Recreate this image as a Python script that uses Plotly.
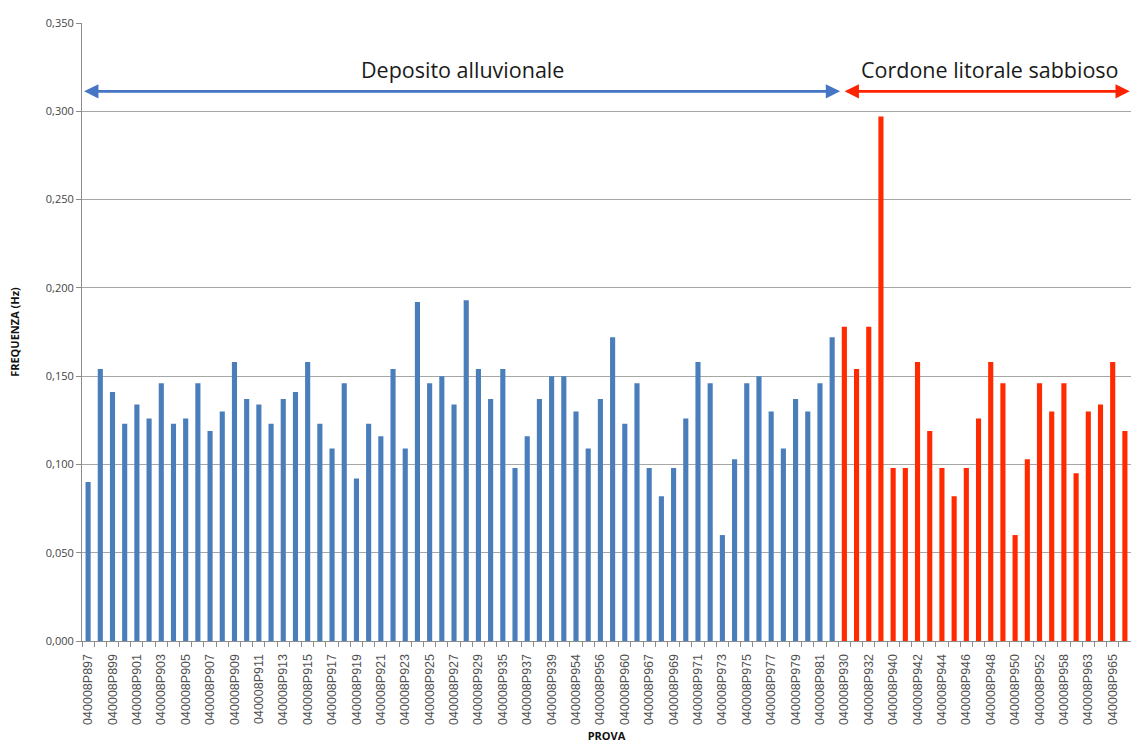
import plotly.graph_objects as go

# Frequency (Hz) per survey, alluvial deposit group
alluvionale = [
    0.090, 0.154, 0.141, 0.123, 0.134, 0.126, 0.146, 0.123, 0.126, 0.146,
    0.119, 0.130, 0.158, 0.137, 0.134, 0.123, 0.137, 0.141, 0.158, 0.123,
    0.109, 0.146, 0.092, 0.123, 0.116, 0.154, 0.109, 0.192, 0.146, 0.150,
    0.134, 0.193, 0.154, 0.137, 0.154, 0.098, 0.116, 0.137, 0.150, 0.150,
    0.130, 0.109, 0.137, 0.172, 0.123, 0.146, 0.098, 0.082, 0.098, 0.126,
    0.158, 0.146, 0.060, 0.103, 0.146, 0.150, 0.130, 0.109, 0.137, 0.130,
    0.146, 0.172,
]

# Frequency (Hz) per survey, sandy coastal ridge group
litorale = [
    0.178, 0.154, 0.178, 0.297, 0.098, 0.098, 0.158, 0.119, 0.098, 0.082,
    0.098, 0.126, 0.158, 0.146, 0.060, 0.103, 0.146, 0.130, 0.146, 0.095,
    0.130, 0.134, 0.158, 0.119,
]

# Labels printed under every other bar
tick_labels = [
    "040008P897", "040008P899", "040008P901", "040008P903", "040008P905",
    "040008P907", "040008P909", "040008P911", "040008P913", "040008P915",
    "040008P917", "040008P919", "040008P921", "040008P923", "040008P925",
    "040008P927", "040008P929", "040008P935", "040008P937", "040008P939",
    "040008P954", "040008P956", "040008P960", "040008P967", "040008P969",
    "040008P971", "040008P973", "040008P975", "040008P977", "040008P979",
    "040008P981", "040008P930", "040008P932", "040008P940", "040008P942",
    "040008P944", "040008P946", "040008P948", "040008P950", "040008P952",
    "040008P958", "040008P963", "040008P965",
]

y_ticks = [0.0, 0.05, 0.10, 0.15, 0.20, 0.25, 0.30, 0.35]

BLUE = "#4a7ebb"
RED = "#ff2a00"

n_a = len(alluvionale)
n_l = len(litorale)
n = n_a + n_l
x_a = list(range(n_a))
x_l = list(range(n_a, n))

fig = go.Figure()
fig.add_trace(go.Bar(x=x_a, y=alluvionale, width=0.42,
                     marker=dict(color=BLUE, line=dict(width=0)),
                     showlegend=False))
fig.add_trace(go.Bar(x=x_l, y=litorale, width=0.42,
                     marker=dict(color=RED, line=dict(width=0)),
                     showlegend=False))

font_family = "'Open Sans', Lato, Arial, sans-serif"

fig.update_layout(
    width=1131, height=743,
    margin=dict(l=82, r=0, t=23, b=102),
    plot_bgcolor="white", paper_bgcolor="white",
    font=dict(family=font_family, color="#333333"),
    bargap=0.58,
)

fig.update_xaxes(
    range=[-0.5, n - 0.5],
    tickmode="array",
    tickvals=list(range(0, n, 2)),
    ticktext=tick_labels,
    tickangle=-90,
    tickfont=dict(size=12.5, color="#505050", family="'Liberation Sans', Arial, sans-serif"),
    ticks="",
    ticklabelstandoff=7,
    minor=dict(ticks="outside", tick0=-0.5, dtick=1, ticklen=5,
               tickcolor="#8c8c8c", tickwidth=1),
    showline=True, linecolor="#8c8c8c", linewidth=1,
    showgrid=False, zeroline=False,
    title=dict(text="<b>PROVA</b>", font=dict(size=11, color="#111111"), standoff=8),
)

fig.update_yaxes(
    range=[0, 0.35],
    tickmode="array",
    tickvals=y_ticks,
    ticktext=[f"{v:.3f}".replace(".", ",") for v in y_ticks],
    tickfont=dict(size=11, color="#444444"),
    ticks="outside", ticklen=5, tickcolor="#8c8c8c",
    showline=True, linecolor="#8c8c8c", linewidth=1,
    showgrid=True, gridcolor="#a6a6a6", gridwidth=1.3,
    zeroline=False,
    title=dict(text="<b>FREQUENZA (Hz)</b>", font=dict(size=11, color="#111111"), standoff=23),
)

# Group ranges with double-headed arrows and captions
arrow_y = 0.3113
groups = [
    (-0.45, n_a - 0.35, "#4575c4"),
    (n_a - 0.1, n - 0.6, "#ff2200"),
]
for x0, x1, acol in groups:
    fig.add_annotation(
        x=x1, y=arrow_y, ax=x0, ay=arrow_y,
        xref="x", yref="y", axref="x", ayref="y",
        text="", showarrow=True, arrowside="end+start",
        arrowhead=2, arrowsize=1.1, arrowwidth=2.6, arrowcolor=acol,
    )

fig.add_annotation(x=30.7, y=0.3235, xref="x", yref="y", text="Deposito alluvionale",
                   showarrow=False, font=dict(size=21.5, color="#1a1a1a"))
fig.add_annotation(x=73.9, y=0.3235, xref="x", yref="y", text="Cordone litorale sabbioso",
                   showarrow=False, font=dict(size=21.5, color="#1a1a1a"))

fig.write_html("out.html")
